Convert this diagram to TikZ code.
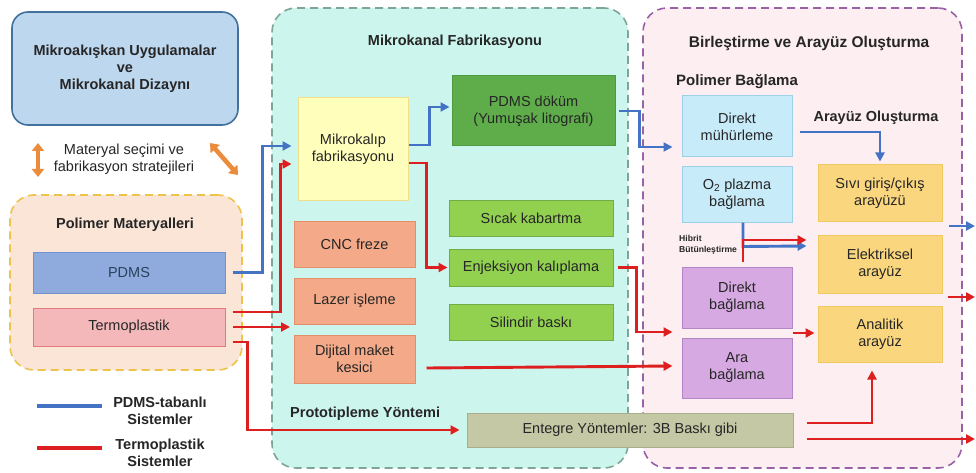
\documentclass[tikz,border=0pt]{standalone}
\usepackage{fontspec}
\setmainfont{Liberation Sans}
\usetikzlibrary{positioning,arrows.meta}

\definecolor{txt}{HTML}{262626}
\definecolor{designfill}{HTML}{BDD7EE}
\definecolor{designdraw}{HTML}{41719C}
\definecolor{arrorange}{HTML}{EB8C3C}
\definecolor{polfill}{HTML}{FBE5D6}
\definecolor{poldraw}{HTML}{EDC34B}
\definecolor{pdmsfill}{HTML}{8FAADC}
\definecolor{pdmsdraw}{HTML}{7391CF}
\definecolor{termofill}{HTML}{F4B8BA}
\definecolor{termodraw}{HTML}{E27B7E}
\definecolor{fabfill}{HTML}{CCF5EE}
\definecolor{fabdraw}{HTML}{7FA596}
\definecolor{kalipfill}{HTML}{FFFFBB}
\definecolor{kalipdraw}{HTML}{EEE08C}
\definecolor{dokumfill}{HTML}{5FAD4A}
\definecolor{dokumdraw}{HTML}{4E9A3C}
\definecolor{greenfill}{HTML}{92D050}
\definecolor{greendraw}{HTML}{70AD47}
\definecolor{protofill}{HTML}{F4AA88}
\definecolor{protodraw}{HTML}{E3906A}
\definecolor{entfill}{HTML}{C4C8A4}
\definecolor{entdraw}{HTML}{A9AD8A}
\definecolor{birfill}{HTML}{FCEEF1}
\definecolor{birdraw}{HTML}{9A62A6}
\definecolor{bondfill}{HTML}{C7EBF9}
\definecolor{bonddraw}{HTML}{9DCFE6}
\definecolor{ifacefill}{HTML}{FAD67E}
\definecolor{ifacedraw}{HTML}{F2C95E}
\definecolor{purplefill}{HTML}{D7A9E3}
\definecolor{purpledraw}{HTML}{B386C5}
\definecolor{lblue}{HTML}{4472C4}
\definecolor{lred}{HTML}{DE1F1F}

\begin{document}
\begin{tikzpicture}[x=1pt,y=-1pt,
  every node/.style={font=\fontsize{14.5}{17}\selectfont, text=txt, align=center, inner sep=2pt},
  group/.style={draw, line width=1.6pt, dash pattern=on 8pt off 5pt, rounded corners=24pt},
  box/.style={draw, line width=1pt},
  title/.style={font=\bfseries\fontsize{14.5}{17}\selectfont},
  blueline/.style={draw=lblue, line width=2.9pt},
  redline/.style={draw=lred, line width=2.9pt},
  bluearrow/.style={blueline, -{Triangle[length=9pt,width=9pt]}},
  redarrow/.style={redline, -{Triangle[length=9pt,width=9pt]}},
  twoway/.style={draw=arrorange, line width=4.5pt, {Triangle[length=8pt,width=12pt]}-{Triangle[length=8pt,width=12pt]}}]
\useasboundingbox (0,0) rectangle (976,473);
\fill[white] (0,0) rectangle (976,473);

% groups
\node[group, fill=polfill, draw=poldraw, minimum width=232pt, minimum height=175pt] (pol) at (126,282.5) {};
\node[group, fill=fabfill, draw=fabdraw, minimum width=356pt, minimum height=460pt] (fab) at (450,238) {};
\node[group, fill=birfill, draw=birdraw, minimum width=319pt, minimum height=460pt] (bir) at (802.5,238) {};

% design and materials
\node[box, title, fill=designfill, draw=designdraw, line width=1.6pt, rounded corners=16pt,
  minimum width=226pt, minimum height=113pt] (design) at (125,68.5)
  {Mikroakışkan Uygulamalar\\ve\\Mikrokanal Dizaynı};
\node (secim) at (124,159) {Materyal seçimi ve\\fabrikasyon stratejileri};
\draw[twoway] (38,143) -- (38,177);
\draw[twoway] (210,143) -- (238,175);
\node[title] (poltitle) at (125,225) {Polimer Materyalleri};
\node[box, fill=pdmsfill, draw=pdmsdraw, text=designdraw!60!black, minimum width=192pt, minimum height=41pt] (pdms) at (129,272.5) {PDMS};
\node[box, fill=termofill, draw=termodraw, minimum width=192pt, minimum height=38pt] (termo) at (129,327) {Termoplastik};

% legend
\coordinate (lb1) at (37,406);
\coordinate (lb2) at (102,406);
\coordinate (lr1) at (37,448);
\coordinate (lr2) at (102,448);
\draw[blueline, line width=3.2pt] (lb1) -- (lb2);
\draw[redline, line width=3.2pt] (lr1) -- (lr2);
\node[title] (legb) at (160,411) {PDMS-tabanlı\\Sistemler};
\node[title] (legr) at (160,453) {Termoplastik\\Sistemler};

% fabrication
\node[title] (fabtitle) at (455,42) {Mikrokanal Fabrikasyonu};
\node[box, fill=kalipfill, draw=kalipdraw, minimum width=110pt, minimum height=102pt] (kalip) at (353,149) {Mikrokalıp\\fabrikasyonu};
\node[box, fill=dokumfill, draw=dokumdraw, minimum width=163pt, minimum height=70pt] (dokum) at (533.5,111) {PDMS döküm\\(Yumuşak litografi)};
\node[box, fill=greenfill, draw=greendraw, minimum width=164pt, minimum height=36pt] (sicak) at (531,218) {Sıcak kabartma};
\node[box, fill=greenfill, draw=greendraw, minimum width=164pt, minimum height=37pt] (enjeksiyon) at (531,267.5) {Enjeksiyon kalıplama};
\node[box, fill=greenfill, draw=greendraw, minimum width=164pt, minimum height=36pt] (silindir) at (531,322) {Silindir baskı};
\node[box, fill=protofill, draw=protodraw, minimum width=121pt, minimum height=46pt] (cnc) at (354.5,244) {CNC freze};
\node[box, fill=protofill, draw=protodraw, minimum width=121pt, minimum height=46pt, below=10pt of cnc] (lazer) {Lazer işleme};
\node[box, fill=protofill, draw=protodraw, minimum width=121pt, minimum height=48pt, below=10pt of lazer] (dijital) {Dijital maket\\kesici};
\node[title, anchor=west] (prototitle) at (288,414) {Prototipleme Yöntemi};
\node[box, fill=entfill, draw=entdraw, minimum width=326pt, minimum height=34pt] (entegre) at (630,430) {Entegre Yöntemler: 3B Baskı gibi};

% bonding and interfacing
\node[title, font=\bfseries\fontsize{15.5}{18}\selectfont] (birtitle) at (809,43) {Birleştirme ve Arayüz Oluşturma};
\node[title, font=\bfseries\fontsize{15}{18}\selectfont, anchor=west] (bagtitle) at (674,82) {Polimer Bağlama};
\node[title] (araytitle) at (876,118) {Arayüz Oluşturma};
\node[box, fill=bondfill, draw=bonddraw, minimum width=110pt, minimum height=61pt] (muhur) at (737,126.5) {Direkt\\mühürleme};
\node[box, fill=bondfill, draw=bonddraw, minimum width=110pt, minimum height=55pt] (o2) at (737,194.5) {O\textsubscript{2} plazma\\bağlama};
\node[title, font=\bfseries\fontsize{8.6}{11}\selectfont, align=left, anchor=west, inner sep=0pt] (hibrit) at (679,245) {Hibrit\\Bütünleştirme};
\node[box, fill=purplefill, draw=purpledraw, minimum width=110pt, minimum height=61pt] (direktbag) at (737,297.5) {Direkt\\bağlama};
\node[box, fill=purplefill, draw=purpledraw, minimum width=110pt, minimum height=60pt] (arabag) at (737,368) {Ara\\bağlama};
\node[box, fill=ifacefill, draw=ifacedraw, minimum width=124pt, minimum height=56pt] (sivi) at (880,193) {Sıvı giriş/çıkış\\arayüzü};
\node[box, fill=ifacefill, draw=ifacedraw, minimum width=124pt, minimum height=58pt] (elektrik) at (880,264) {Elektriksel\\arayüz};
\node[box, fill=ifacefill, draw=ifacedraw, minimum width=124pt, minimum height=56pt] (analitik) at (880,334) {Analitik\\arayüz};

% free ends
\coordinate (protoin) at (290,327);
\coordinate (out1) at (975,226);
\coordinate (out2) at (975,297);
\coordinate (out3) at (975,439);

% connectors
\draw[bluearrow] ([xshift=7pt]pdms.east) -- ++(30,0) |- ([xshift=-6pt,yshift=3pt]kalip.west);
\draw[redarrow] ([xshift=7pt,yshift=15pt]termo.east) -- ++(48,0) |- ([xshift=-6pt,yshift=-15pt]kalip.west);
\draw[redarrow] ([xshift=7pt]termo.east) -- (protoin);
\draw[redarrow] ([xshift=7pt,yshift=-15pt]termo.east) -- ++(15,0) |- ([xshift=-7pt]entegre.west);
\draw[bluearrow] ([yshift=4pt]kalip.east) -- ++(21,0) |- ([xshift=-2pt,yshift=4pt]dokum.west);
\draw[redarrow] ([yshift=-14pt]kalip.east) -- ++(18,0) |- ([xshift=-1pt]enjeksiyon.west);
\draw[bluearrow] ([xshift=3pt]dokum.east) -- ++(21,0) |- ([xshift=-9pt,yshift=-20.5pt]muhur.west);
\draw[redarrow] ([xshift=4pt]enjeksiyon.east) -- ++(19,0) |- ([xshift=-9pt,yshift=-34.5pt]direktbag.west);
\draw[redarrow] ([xshift=11pt,yshift=-9pt]dijital.east) -- ([xshift=-9pt,yshift=2pt]arabag.west);
\draw[bluearrow] ([xshift=7pt,yshift=-5.5pt]muhur.east) -| ([yshift=3pt]sivi.north);
\draw[bluearrow] ([xshift=6pt]o2.south) -- ++(0,24) -- ([xshift=-11pt,yshift=18pt]elektrik.west);
\draw[redarrow] ([xshift=6pt,yshift=5pt]direktbag.north) |- ([xshift=-11pt,yshift=24pt]elektrik.west);
\draw[redarrow] ([yshift=-35.5pt]direktbag.east) -- ([xshift=-3pt,yshift=1pt]analitik.west);
\draw[redarrow] ([xshift=13pt,yshift=7pt]entegre.east) -| ([xshift=-8pt,yshift=-8pt]analitik.south);
\draw[redarrow] ([xshift=13pt,yshift=-9pt]entegre.east) -- (out3);
\draw[bluearrow] ([xshift=6pt,yshift=-33pt]sivi.east) -- (out1);
\draw[redarrow] ([xshift=5pt,yshift=-33pt]elektrik.east) -- (out2);
\end{tikzpicture}
\end{document}
